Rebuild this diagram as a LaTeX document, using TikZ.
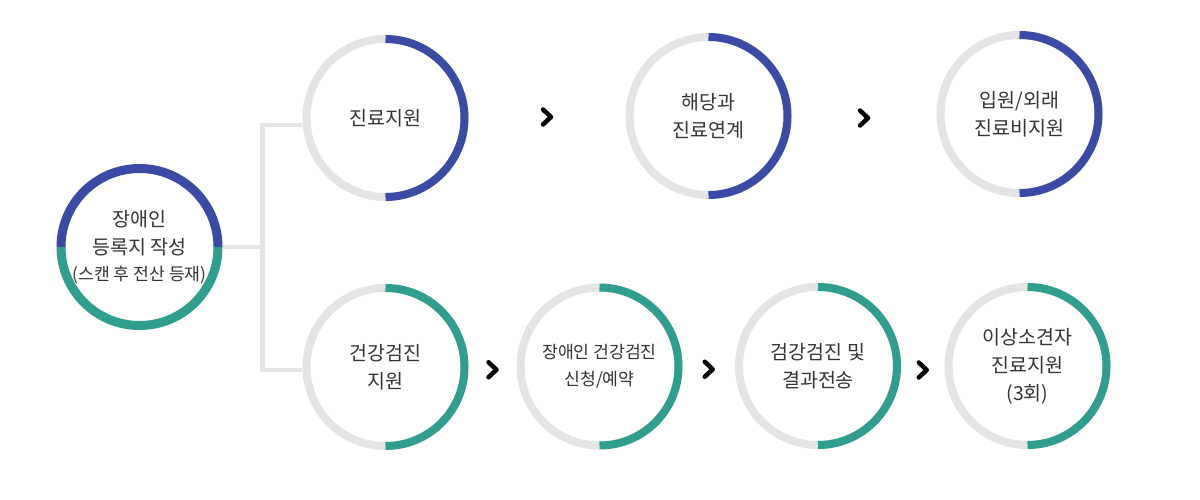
\documentclass[tikz,border=0pt]{standalone}
\usepackage{fontspec}
\setmainfont{Noto Sans CJK KR}
\usetikzlibrary{calc}
\definecolor{ringblue}{HTML}{3A4AA5}
\definecolor{ringteal}{HTML}{2F9E8F}
\definecolor{ringgray}{HTML}{E4E4E4}
\definecolor{txt}{HTML}{333333}
\tikzset{
  ring/.style={circle, inner sep=0pt, minimum size=166pt, text=txt, align=center,
    font=\fontsize{19.5}{28}\selectfont},
  smalltxt/.style={font=\fontsize{17.2}{27}\selectfont},
  track/.style={draw=ringgray, line width=8pt},
  bluearc/.style={draw=ringblue, line width=8pt},
  tealarc/.style={draw=ringteal, line width=8pt},
  conn/.style={draw=ringgray, line width=4.5pt, line join=miter},
  chev/.style={draw=black, line width=4.5pt, line join=round, line cap=round},
}
\newcommand{\halfring}[2]{%
  \draw[track] (#1.center) circle[radius=79pt];
  \draw[#2] ([shift={(90:79pt)}]#1.center) arc[start angle=90, end angle=-90, radius=79pt];
}
\newcommand{\chevat}[1]{%
  \draw[chev] ($#1+(-4pt,7.5pt)$) -- ($#1+(4pt,0pt)$) -- ($#1+(-4pt,-7.5pt)$);
}
\begin{document}
\begin{tikzpicture}[x=1pt,y=1pt]
\useasboundingbox (0,0) rectangle (1200,-500);
\fill[white] (0,0) rectangle (1200,-500);

% left start circle
\node[ring] (L) at (139.5,-247) {\raisebox{0pt}{장애인}\\등록지 작성\\[-2pt]{\fontsize{17.2}{24}\selectfont (스캔 후 전산 등재)}};
\draw[draw=ringblue, line width=9pt] ([shift={(0:78.5pt)}]L.center) arc[start angle=0, end angle=180, radius=78.5pt];
\draw[draw=ringteal, line width=9pt] ([shift={(180:78.5pt)}]L.center) arc[start angle=180, end angle=360, radius=78.5pt];

% top row
\node[ring] (c1) at (385.5,-118) {진료지원};
\node[ring] (c2) at (708.5,-116) {해당과\\진료연계};
\node[ring] (c3) at (1019.5,-114) {입원/외래\\진료비지원};

% bottom row
\node[ring] (b1) at (385.5,-367) {건강검진\\지원};
\node[ring, smalltxt] (b2) at (599.5,-366.5) {장애인 건강검진\\신청/예약};
\node[ring] (b3) at (818,-366) {검강검진 및\\결과전송};
\node[ring] (b4) at (1027.5,-366) {이상소견자\\진료지원\\(3회)};

% connectors
\coordinate (jm) at (262.5,-247);
\coordinate (jt) at (262.5,-125);
\coordinate (jb) at (262.5,-370);
\draw[conn] (L.east) -- (jm);
\draw[conn] (jt -| c1.west) -- (jt) -- (jb) -- (jb -| b1.west);

% rings
\halfring{c1}{bluearc}
\halfring{c2}{bluearc}
\halfring{c3}{bluearc}
\halfring{b1}{tealarc}
\halfring{b2}{tealarc}
\halfring{b3}{tealarc}
\halfring{b4}{tealarc}

% chevrons
\chevat{($(c1)!0.5!(c2)$)}
\chevat{($(c2)!0.5!(c3)+(0,-3pt)$)}
\chevat{($(b1)!0.5!(b2)+(0,-3pt)$)}
\chevat{($(b2)!0.5!(b3)+(0,-3pt)$)}
\chevat{($(b3)!0.5!(b4)+(0,-4pt)$)}
\end{tikzpicture}
\end{document}
